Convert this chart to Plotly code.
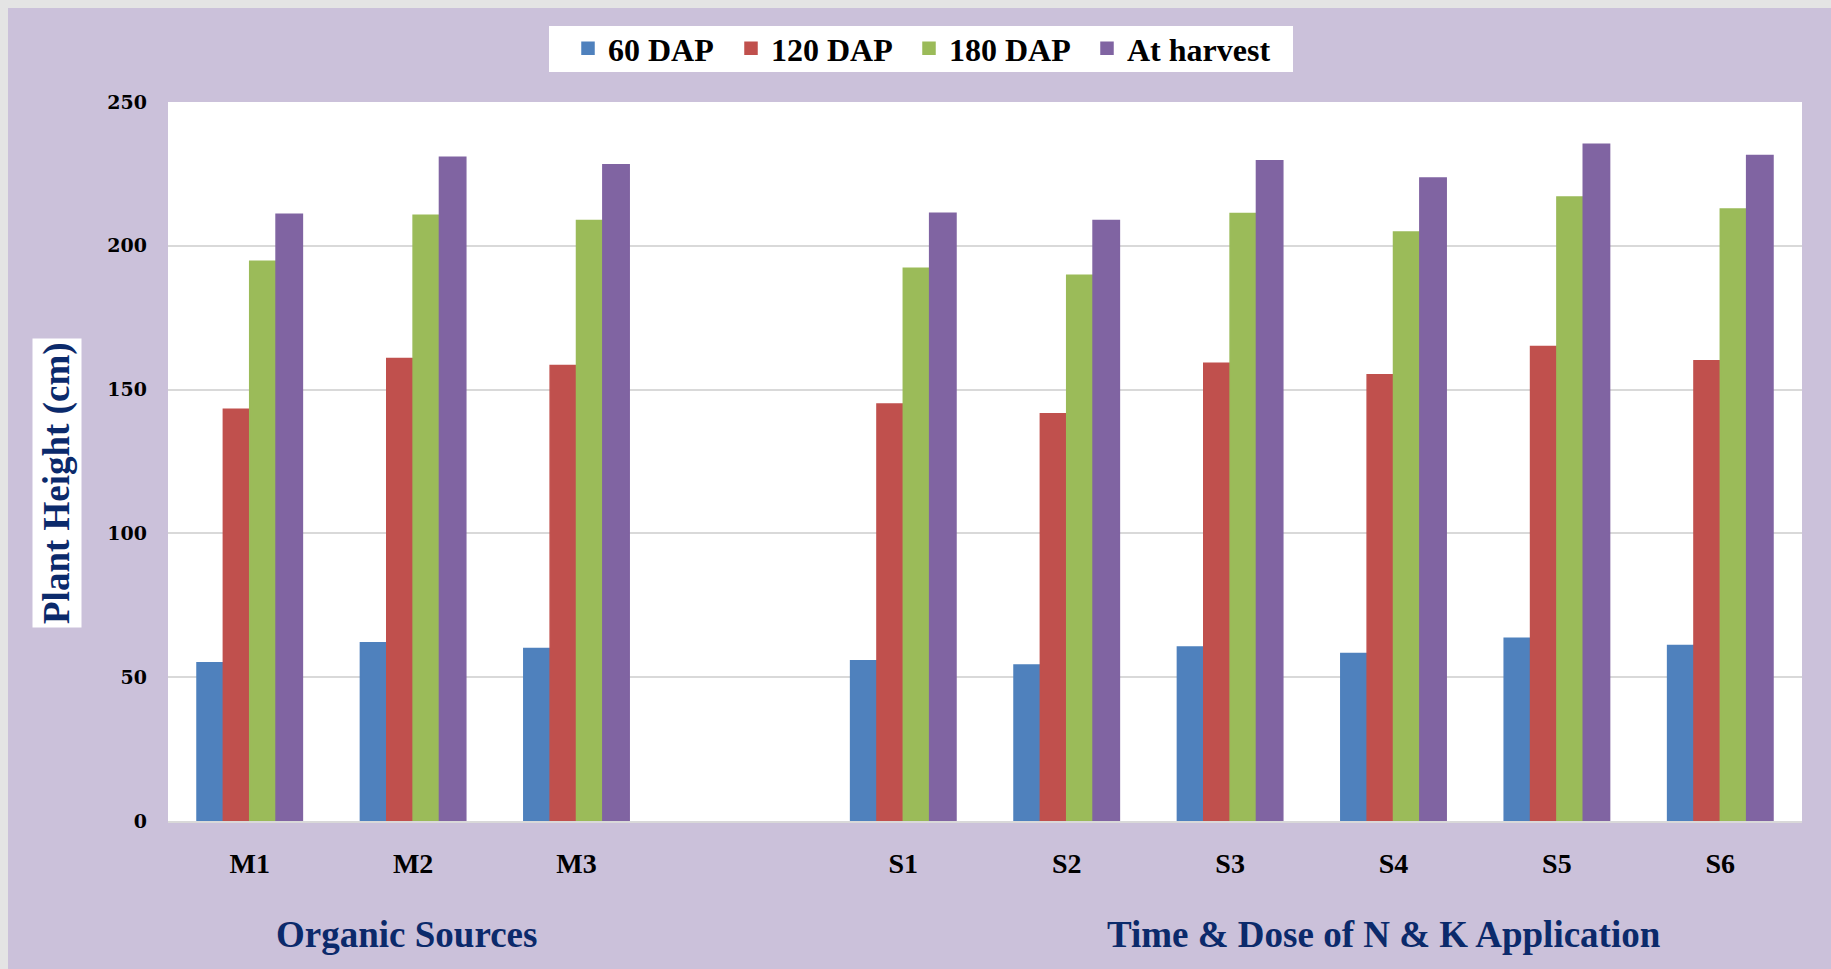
import plotly.graph_objects as go

# Treatments (blank slot separates the two treatment groups)
categories = ["M1", "M2", "M3", " ", "S1", "S2", "S3", "S4", "S5", "S6"]

# Plant height (cm) at each growth stage; None for the blank slot
dap60 = [55.0, 62.0, 60.0, None, 55.7, 54.2, 60.5, 58.2, 63.5, 61.0]
dap120 = [143.2, 160.8, 158.4, None, 145.0, 141.6, 159.2, 155.2, 165.0, 160.0]
dap180 = [194.6, 210.6, 208.8, None, 192.2, 189.8, 211.2, 204.8, 217.0, 212.8]
harvest = [211.0, 230.8, 228.2, None, 211.3, 208.8, 229.6, 223.6, 235.3, 231.4]

series_names = ["60 DAP", "120 DAP", "180 DAP", "At harvest"]
series_values = [dap60, dap120, dap180, harvest]
series_colors = ["#4F81BD", "#C0504D", "#9BBB59", "#8064A2"]
legend_widths = [118, 133, 133, 140]

y_ticks = [0, 50, 100, 150, 200, 250]

W, H = 1831, 969
ML, MR, MT, MB = 168, 29, 102, 148
PW, PH = W - ML - MR, H - MT - MB


def px_x(x):
    return (x - ML) / PW


def px_y(y):
    return (H - MB - y) / PH


LAVENDER = "#CBC1DA"
NAVY = "#0B2A6B"
SERIF = "Liberation Serif"

fig = go.Figure()
for name, vals, col, lw in zip(series_names, series_values, series_colors, legend_widths):
    fig.add_trace(go.Bar(
        x=categories, y=vals, name=name,
        marker=dict(color=col, line=dict(width=1.5, color=col)),
        legendwidth=lw,
    ))

fig.update_layout(
    width=W, height=H,
    margin=dict(l=ML, r=MR, t=MT, b=MB, pad=0),
    paper_bgcolor=LAVENDER,
    plot_bgcolor="white",
    barmode="group",
    bargap=0.355,
    bargroupgap=0,
    showlegend=True,
    legend=dict(
        orientation="h",
        x=px_x(568), xanchor="left",
        y=px_y(21), yanchor="top",
        bgcolor="rgba(0,0,0,0)",
        font=dict(family=SERIF, size=32, color="black", weight="bold"),
        itemwidth=30,
        traceorder="normal",
    ),
    xaxis=dict(
        type="category",
        categoryorder="array", categoryarray=categories,
        showgrid=False,
        showline=True, linecolor="#D9D9D9", linewidth=2,
        ticks="", ticklabelstandoff=16,
        tickfont=dict(family=SERIF, size=28, color="black", weight="bold"),
        fixedrange=True,
    ),
    yaxis=dict(
        range=[0, 250],
        tickvals=y_ticks,
        showgrid=True, gridcolor="#D9D9D9", gridwidth=2,
        zeroline=False,
        showline=False,
        ticks="", ticklabelstandoff=20,
        tickfont=dict(family="DejaVu Serif", size=19, color="black", weight="bold"),
        fixedrange=True,
    ),
    annotations=[
        dict(
            text="Plant Height (cm)", textangle=-90,
            xref="paper", yref="paper",
            x=px_x(57), y=px_y(483),
            xanchor="center", yanchor="middle",
            showarrow=False, bgcolor="white", borderpad=3,
            font=dict(family=SERIF, size=37, color=NAVY, weight="bold"),
        ),
        dict(
            text="Organic Sources",
            xref="paper", yref="paper",
            x=px_x(406), y=px_y(934),
            xanchor="center", yanchor="middle", showarrow=False,
            font=dict(family=SERIF, size=37, color=NAVY, weight="bold"),
        ),
        dict(
            text="Time & Dose of N & K Application",
            xref="paper", yref="paper",
            x=px_x(1384), y=px_y(934),
            xanchor="center", yanchor="middle", showarrow=False,
            font=dict(family=SERIF, size=37, color=NAVY, weight="bold"),
        ),
    ],
    shapes=[
        # white panel behind the legend entries
        dict(type="rect", xref="paper", yref="paper",
             x0=px_x(549), x1=px_x(1293), y0=px_y(72), y1=px_y(26),
             fillcolor="white", line=dict(width=0), layer="below"),
        # thin light frame along the top and left edges of the figure
        dict(type="rect", xref="paper", yref="paper",
             x0=px_x(0), x1=px_x(W), y0=px_y(8), y1=px_y(0),
             fillcolor="#E4E4E4", line=dict(width=0), layer="above"),
        dict(type="rect", xref="paper", yref="paper",
             x0=px_x(0), x1=px_x(8), y0=px_y(H), y1=px_y(0),
             fillcolor="#E4E4E4", line=dict(width=0), layer="above"),
    ],
)

fig.write_html("out.html")
